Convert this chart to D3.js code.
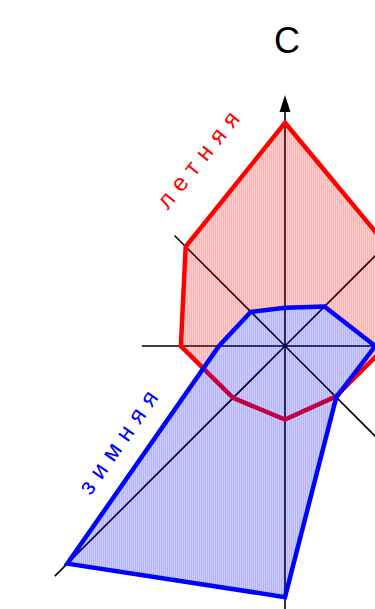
<!doctype html>
<html lang="ru">
<head>
<meta charset="utf-8">
<script src="https://d3js.org/d3.v7.min.js"></script>
<style>
  html, body { margin: 0; padding: 0; background: #fff; }
  svg { display: block; }
</style>
</head>
<body>
<div id="rose"></div>
<script>
// roza vetrov: share of winds by direction, %
var directions = ["С", "СВ", "В", "ЮВ", "Ю", "ЮЗ", "З", "СЗ"];
var summer = [24.0, 15.4, 10.9, 7.7, 7.9, 7.9, 11.2, 15.1];
var winter = [4.1, 6.0, 9.7, 7.8, 27.0, 33.1, 7.1, 5.2];
// how far each axis line reaches, in the same % units
var axisReach = [27, 35, 15.4, 16.8, 30, 35, 15.4, 16.8];
var seriesNames = ["летняя", "зимняя"];

var width = 375, height = 609,
    cx = 285, cy = 346;

var r = d3.scaleLinear().domain([0, 10]).range([0, 93]);
var angle = d3.scaleLinear().domain([0, directions.length]).range([0, 2 * Math.PI]);

function pt(i, v) {
  var a = angle(i);
  return [cx + r(v) * Math.sin(a), cy - r(v) * Math.cos(a)];
}

var svg = d3.select("#rose").append("svg")
    .attr("width", width)
    .attr("height", height);

var defs = svg.append("defs");

function hatch(id, c1, c2) {
  var p = defs.append("pattern")
      .attr("id", id)
      .attr("patternUnits", "userSpaceOnUse")
      .attr("width", 2).attr("height", 4);
  p.append("rect").attr("x", 0).attr("width", 1).attr("height", 4).attr("fill", c1);
  p.append("rect").attr("x", 1).attr("width", 1).attr("height", 4).attr("fill", c2);
}
hatch("hatchSummer", "rgba(255,0,0,0.3)", "rgba(255,0,0,0.2)");
hatch("hatchWinter", "rgba(0,0,255,0.3)", "rgba(0,0,255,0.2)");

var radial = d3.lineRadial()
    .angle(function(d, i) { return angle(i); })
    .radius(function(d) { return r(d); })
    .curve(d3.curveLinearClosed);

var shift = "translate(" + cx + "," + cy + ")";

// summer fill is hidden where the winter polygon lies on top
var mask = defs.append("mask").attr("id", "noWinter")
    .attr("maskUnits", "userSpaceOnUse")
    .attr("x", 0).attr("y", 0).attr("width", width).attr("height", height);
mask.append("rect").attr("width", width).attr("height", height).attr("fill", "#fff");
mask.append("path")
    .attr("transform", shift)
    .attr("d", radial(winter))
    .attr("fill", "#000");

// axes
var axes = svg.append("g");
axisReach.forEach(function(v, i) {
  var end = pt(i, i === 0 ? v - 1.8 : v);
  axes.append("line")
      .attr("x1", cx).attr("y1", cy)
      .attr("x2", end[0]).attr("y2", end[1])
      .attr("stroke", "#000")
      .attr("stroke-width", 1.6);
});

// north arrow
var tip = pt(0, axisReach[0]);
axes.append("path")
    .attr("d", "M" + tip[0] + "," + tip[1] +
               "L" + (tip[0] - 5.5) + "," + (tip[1] + 17) +
               "L" + (tip[0] + 5.5) + "," + (tip[1] + 17) + "Z")
    .attr("fill", "#000");

svg.append("text")
    .attr("x", tip[0] + 2)
    .attr("y", tip[1] - 42)
    .attr("text-anchor", "middle")
    .attr("font-family", "Liberation Sans, Arial, sans-serif")
    .attr("font-size", 36)
    .text(directions[0]);

// summer fill (masked), then summer outline
svg.append("g")
    .attr("mask", "url(#noWinter)")
  .append("path")
    .attr("transform", shift)
    .attr("d", radial(summer))
    .attr("fill", "url(#hatchSummer)");

var g = svg.append("g").attr("transform", shift);

g.append("path")
    .attr("d", radial(summer))
    .attr("fill", "none")
    .attr("stroke", "#ff0000")
    .attr("stroke-width", 4.5)
    .attr("stroke-linejoin", "miter");

g.append("path")
    .attr("d", radial(winter))
    .attr("fill", "url(#hatchWinter)")
    .attr("stroke", "#0000ff")
    .attr("stroke-width", 4.5)
    .attr("stroke-linejoin", "miter");

// series labels along an edge of each polygon
function edgeLabel(values, i, j, offset, text, color) {
  var a = pt(i, values[i]), b = pt(j, values[j]);
  var dx = b[0] - a[0], dy = b[1] - a[1];
  if (dy > 0) { dx = -dx; dy = -dy; }
  var len = Math.sqrt(dx * dx + dy * dy);
  var nx = dy / len, ny = -dx / len;   // normal pointing up-left
  var mx = (a[0] + b[0]) / 2 + nx * offset,
      my = (a[1] + b[1]) / 2 + ny * offset;
  var deg = Math.atan2(dy, dx) * 180 / Math.PI;
  svg.append("text")
      .attr("transform", "translate(" + mx + "," + my + ") rotate(" + deg + ")")
      .attr("text-anchor", "middle")
      .attr("dominant-baseline", "central")
      .attr("font-family", "Liberation Sans, Arial, sans-serif")
      .attr("font-size", 24)
      .attr("letter-spacing", 8)
      .attr("fill", color)
      .text(text);
}
edgeLabel(summer, 0, 7, 45, seriesNames[0], "#ff0000");
edgeLabel(winter, 5, 6, 28, seriesNames[1], "#0000ff");
</script>
</body>
</html>
